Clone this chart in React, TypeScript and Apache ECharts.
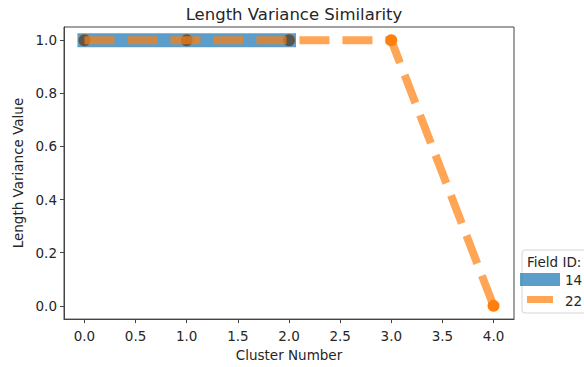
import React, { useEffect, useRef } from "react";
import * as echarts from "echarts";

const clusters14 = [0, 1, 2];
const values14 = [1, 1, 1];
const clusters22 = [0, 1, 2, 3, 4];
const values22 = [1, 1, 1, 1, 0];
const xTicks = [0, 0.5, 1, 1.5, 2, 2.5, 3, 3.5, 4];
const yTicks = [0, 0.2, 0.4, 0.6, 0.8, 1.0];
const legendTitle = "Field ID:";
const seriesNames = ["14", "22"];

const FONT = "DejaVu Sans";
const TXT = "#262626";

export default function App() {
  const ref = useRef<HTMLDivElement>(null);
  useEffect(() => {
    if (!ref.current) return;
    const chart = echarts.init(ref.current, undefined, { renderer: "svg" });
    const d14 = clusters14.map((x, i) => [x, values14[i]]);
    const d22 = clusters22.map((x, i) => [x, values22[i]]);
    chart.setOption({
      animation: false,
      backgroundColor: "#ffffff",
      title: {
        text: "Length Variance Similarity",
        left: 289,
        top: 1,
        textAlign: "center",
        textStyle: { fontFamily: FONT, fontSize: 16.5, fontWeight: "normal", color: TXT },
      },
      grid: {
        left: 64,
        right: 70,
        top: 27,
        bottom: 47,
        show: true,
        borderColor: "#444",
        borderWidth: 1,
        backgroundColor: "transparent",
      },
      xAxis: {
        type: "value",
        min: -0.2,
        max: 4.2,
        name: "Cluster Number",
        nameLocation: "middle",
        nameGap: 28,
        nameTextStyle: { fontFamily: FONT, fontSize: 13.5, color: TXT },
        axisLine: { show: true, onZero: false, lineStyle: { color: "#444" } },
        axisTick: { show: true, length: 4, lineStyle: { color: "#444" }, customValues: xTicks },
        axisLabel: {
          fontFamily: FONT,
          fontSize: 13.5,
          color: TXT,
          margin: 10,
          customValues: xTicks,
          formatter: (v: number) => v.toFixed(1),
        },
        splitLine: { show: false },
      },
      yAxis: {
        type: "value",
        min: -0.05,
        max: 1.05,
        name: "Length Variance Value",
        nameLocation: "middle",
        nameGap: 38,
        nameTextStyle: { fontFamily: FONT, fontSize: 13.5, color: TXT },
        axisLine: { show: true, onZero: false, lineStyle: { color: "#444" } },
        axisTick: { show: true, length: 4, lineStyle: { color: "#444" }, customValues: yTicks },
        axisLabel: {
          fontFamily: FONT,
          fontSize: 13.5,
          color: TXT,
          margin: 7,
          customValues: yTicks,
          formatter: (v: number) => v.toFixed(1),
        },
        splitLine: { show: false },
      },
      series: [
        {
          name: seriesNames[0],
          type: "line",
          data: d14,
          z: 2,
          showSymbol: false,
          symbol: "none",
          lineStyle: { color: "#1f77b4", width: 14, opacity: 0.72, cap: "square" },
        },
        {
          name: seriesNames[1] + " markers",
          type: "scatter",
          data: d22,
          z: 3,
          symbol: "circle",
          symbolSize: 12,
          itemStyle: { color: "#ff7f0e", opacity: 1 },
        },
        {
          name: seriesNames[0] + " markers",
          type: "scatter",
          data: d14,
          z: 4,
          symbol: "circle",
          symbolSize: 12,
          itemStyle: { color: "#3b4f5c", opacity: 0.85 },
        },
        {
          name: seriesNames[1],
          type: "line",
          data: d22,
          z: 5,
          showSymbol: false,
          symbol: "none",
          lineStyle: {
            color: "#ff7f0e",
            width: 8,
            opacity: 0.7,
            type: [30, 13],
            cap: "butt",
          },
        },
      ],
      graphic: [
        {
          type: "rect",
          shape: { x: 522, y: 250, width: 80, height: 63, r: 3 },
          style: { fill: "rgba(255,255,255,0.8)", stroke: "#d5d5d5", lineWidth: 1 },
          z: 10,
        },
        {
          type: "text",
          x: 527,
          y: 262,
          style: { text: legendTitle, fontFamily: FONT, fontSize: 13.5, fill: TXT, verticalAlign: "middle" },
          z: 11,
        },
        {
          type: "rect",
          shape: { x: 520, y: 273, width: 40, height: 13 },
          style: { fill: "#1f77b4", opacity: 0.72 },
          z: 11,
        },
        {
          type: "text",
          x: 565,
          y: 280,
          style: { text: seriesNames[0], fontFamily: FONT, fontSize: 13.5, fill: TXT, verticalAlign: "middle" },
          z: 11,
        },
        {
          type: "rect",
          shape: { x: 527, y: 296, width: 26, height: 7 },
          style: { fill: "#ff7f0e", opacity: 0.7 },
          z: 11,
        },
        {
          type: "text",
          x: 565,
          y: 301,
          style: { text: seriesNames[1], fontFamily: FONT, fontSize: 13.5, fill: TXT, verticalAlign: "middle" },
          z: 11,
        },
      ],
    });
    return () => chart.dispose();
  }, []);
  return (
    <div
      ref={ref}
      style={{ position: "fixed", left: 0, top: 0, width: 584, height: 367 }}
    />
  );
}
